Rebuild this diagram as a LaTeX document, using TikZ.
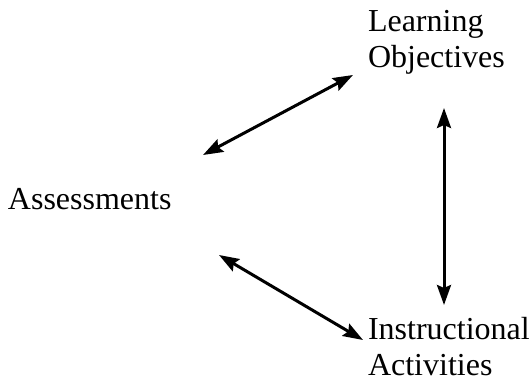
\documentclass[tikz,border=0pt]{standalone}
\usepackage{fontspec}
\setmainfont{Liberation Serif}
\usetikzlibrary{arrows.meta}
\tikzset{
  lbl/.style={inner sep=0pt, outer sep=0pt, anchor=base west, align=left,
    font=\fontsize{32}{36}\selectfont},
  link/.style={line width=3pt, {Stealth[length=20pt,width=14pt,inset=3pt]}-{Stealth[length=20pt,width=14pt,inset=3pt]}}
}
\begin{document}
\begin{tikzpicture}[x=1pt,y=-1pt]
\useasboundingbox (0,0) rectangle (531,382);
\node[lbl] (lo) at (368,68) {Learning\\Objectives};
\node[lbl] (as) at (8,210) {Assessments};
\node[lbl] (ia) at (368,376) {Instructional\\Activities};
\coordinate (a1) at (203,155);
\coordinate (l1) at (353,75);
\coordinate (a2) at (219,255);
\coordinate (i2) at (363,340);
\coordinate (l3) at (444,108);
\coordinate (i3) at (444,305);
\draw[link] (a1) -- (l1);
\draw[link] (a2) -- (i2);
\draw[link] (l3) -- (i3);
\end{tikzpicture}
\end{document}
